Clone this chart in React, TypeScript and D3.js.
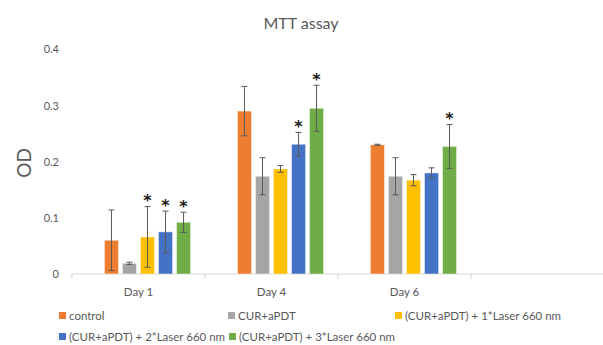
import React, { useEffect, useRef } from 'react';
import * as d3 from 'd3';

const days = ['Day 1', 'Day 4', 'Day 6', ''];
const groups = ['control', 'CUR+aPDT', '(CUR+aPDT) + 1*Laser 660 nm', '(CUR+aPDT) + 2*Laser 660 nm', '(CUR+aPDT) + 3*Laser 660 nm'];
const colors = ['#ED7D31', '#A5A5A5', '#FFC000', '#4472C4', '#70AD47'];

// mean OD per day, one array per group
const control = [0.06, 0.29, 0.23];
const curApdt = [0.019, 0.174, 0.174];
const laser1 = [0.066, 0.187, 0.167];
const laser2 = [0.075, 0.231, 0.18];
const laser3 = [0.092, 0.295, 0.227];

const errControl = [0.054, 0.044, 0.001];
const errCurApdt = [0.002, 0.033, 0.033];
const errLaser1 = [0.054, 0.006, 0.01];
const errLaser2 = [0.037, 0.021, 0.009];
const errLaser3 = [0.018, 0.041, 0.039];

// significance marks (true = asterisk)
const starControl = [false, false, false];
const starCurApdt = [false, false, false];
const starLaser1 = [true, false, false];
const starLaser2 = [true, true, false];
const starLaser3 = [true, true, true];

const yTicks = [0, 0.1, 0.2, 0.3, 0.4];

const values = [control, curApdt, laser1, laser2, laser3];
const errors = [errControl, errCurApdt, errLaser1, errLaser2, errLaser3];
const stars = [starControl, starCurApdt, starLaser1, starLaser2, starLaser3];

const W = 603, H = 345;
const font = 'Lato, "Open Sans", sans-serif';

export default function App() {
  const ref = useRef<SVGSVGElement>(null);

  useEffect(() => {
    const svg = d3.select(ref.current);
    svg.selectAll('*').remove();

    const left = 72, right = 604, top = 49.3, bottom = 274;

    const x0 = d3.scaleBand().domain(days).range([left, right]).padding(0);
    // first slot is left empty, like the original spreadsheet layout
    const slots = ['_', ...groups];
    const x1 = d3.scaleBand().domain(slots).range([0, x0.bandwidth()]).paddingInner(0.22).paddingOuter(0.8);
    const y = d3.scaleLinear().domain([0, 0.4]).range([bottom, top]);

    svg.append('text').attr('x', 301).attr('y', 29).attr('text-anchor', 'middle')
      .attr('font-family', font).attr('font-size', 16).attr('fill', '#595959').text('MTT assay');

    svg.append('text').attr('transform', `translate(31, 163) rotate(-90)`).attr('text-anchor', 'middle')
      .attr('font-family', font).attr('font-size', 19).attr('fill', '#595959').text('OD');

    const yAxis = svg.append('g').attr('transform', `translate(${left}, 0)`)
      .call(d3.axisLeft(y).tickValues(yTicks).tickSize(0).tickPadding(13).tickFormat(d => d === 0 ? '0' : String(d)));
    yAxis.select('.domain').remove();
    yAxis.selectAll('text').attr('font-family', font).attr('font-size', 11).attr('fill', '#595959');

    const xAxis = svg.append('g').attr('transform', `translate(0, ${bottom})`);
    xAxis.append('line').attr('x1', left).attr('x2', right).attr('stroke', '#D9D9D9').attr('stroke-width', 1.2);
    const bounds = days.map(d => x0(d) as number).concat([right]);
    xAxis.selectAll('.tk').data(bounds).join('line').attr('class', 'tk')
      .attr('x1', d => d).attr('x2', d => d).attr('y1', 0).attr('y2', 5).attr('stroke', '#D9D9D9').attr('stroke-width', 1.2);
    xAxis.selectAll('.lbl').data(days.slice(0, 3)).join('text').attr('class', 'lbl')
      .attr('x', d => (x0(d) as number) + x0.bandwidth() / 2).attr('y', 22).attr('text-anchor', 'middle')
      .attr('font-family', font).attr('font-size', 11.5).attr('fill', '#595959').text(d => d);

    groups.forEach((g, gi) => {
      const data = values[gi].map((v, i) => ({ day: days[i], v, e: errors[gi][i], s: stars[gi][i] }));
      const gg = svg.append('g');
      const bx = (d: any) => (x0(d.day) as number) + (x1(g) as number);
      gg.selectAll('rect').data(data).join('rect')
        .attr('x', bx).attr('y', d => y(d.v)).attr('width', x1.bandwidth()).attr('height', d => bottom - y(d.v))
        .attr('fill', colors[gi]).attr('stroke', '#ffffff').attr('stroke-opacity', 0.45).attr('stroke-width', 1);
      const cx = (d: any) => bx(d) + x1.bandwidth() / 2;
      gg.selectAll('.eb').data(data).join('line').attr('class', 'eb')
        .attr('x1', cx).attr('x2', cx).attr('y1', d => y(d.v + d.e)).attr('y2', d => y(d.v - d.e))
        .attr('stroke', '#595959').attr('stroke-width', 1);
      ['top', 'bot'].forEach(k => {
        gg.selectAll('.cap' + k).data(data).join('line').attr('class', 'cap' + k)
          .attr('x1', d => cx(d) - 3).attr('x2', d => cx(d) + 3)
          .attr('y1', d => y(k === 'top' ? d.v + d.e : d.v - d.e)).attr('y2', d => y(k === 'top' ? d.v + d.e : d.v - d.e))
          .attr('stroke', '#595959').attr('stroke-width', 1);
      });
      gg.selectAll('.star').data(data.filter(d => d.s)).join('text').attr('class', 'star')
        .attr('x', cx).attr('y', d => y(d.v + d.e) - 0.5).attr('text-anchor', 'middle')
        .attr('font-family', '"DejaVu Sans", sans-serif').attr('font-size', 16).attr('font-weight', 'bold')
        .attr('fill', '#1a1a1a').text('*');
    });

    // legend
    const legendPos = [[59, 316], [228, 316], [395, 316], [59, 337], [229, 337]];
    const lg = svg.append('g');
    groups.forEach((g, gi) => {
      const [lx, ly] = legendPos[gi];
      lg.append('rect').attr('x', lx).attr('y', ly - 4).attr('width', 7).attr('height', 7).attr('fill', colors[gi]);
      lg.append('text').attr('x', lx + 10).attr('y', ly + 4).attr('font-family', font).attr('font-size', 11.5)
        .attr('fill', '#595959').text(g);
    });
  }, []);

  return <svg ref={ref} width={W} height={H} style={{ position: 'absolute', left: 0, top: 0, background: '#fff' }} />;
}
